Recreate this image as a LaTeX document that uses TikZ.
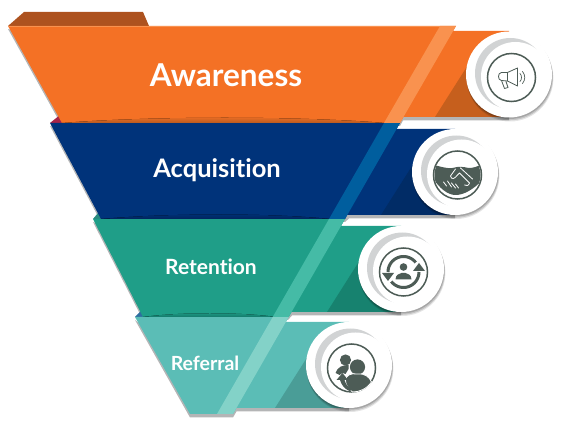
\documentclass[tikz,border=0pt]{standalone}
\usepackage{fontspec}
\setmainfont{Lato}[Ligatures=NoCommon]
\usetikzlibrary{calc}
\definecolor{orangeb}{HTML}{F47125}\definecolor{orangel}{HTML}{F9924F}\definecolor{oranged}{HTML}{C65F1D}\definecolor{orangetab}{HTML}{AD521F}\definecolor{orangelens}{HTML}{B65A20}
\definecolor{blueb}{HTML}{00337A}\definecolor{bluel}{HTML}{005E9E}\definecolor{blued}{HTML}{012C66}\definecolor{bluelens}{HTML}{00255C}
\definecolor{tealb}{HTML}{1F9E88}\definecolor{teall}{HTML}{45BBA6}\definecolor{teald}{HTML}{17826F}\definecolor{teallens}{HTML}{14796A}
\definecolor{aquab}{HTML}{5BBDB6}\definecolor{aqual}{HTML}{83D2C8}\definecolor{aquad}{HTML}{4A9D97}
\definecolor{tabred}{HTML}{A82548}\definecolor{tabteal}{HTML}{2A8A80}\definecolor{tabblue}{HTML}{2F6FA0}
\definecolor{iconc}{HTML}{4D5C56}\definecolor{crescent}{HTML}{D1D3D4}\definecolor{shadowc}{HTML}{B4B5B6}
\tikzset{
  bandshadow/.style={fill=shadowc,draw=none},
  label/.style={text=white,font=\fontsize{#1}{#1}\selectfont\bfseries,inner sep=0pt},
  iconline/.style={draw=iconc,line width=.8pt,line join=round,line cap=round},
  iconfill/.style={fill=iconc,draw=none},
  whitecut/.style={draw=white,line width=0.8pt,line cap=round,line join=round}
}
% white disc with shadow, grey crescent and the ring; #1 = the icon
\newcommand{\mybadge}[1]{%
  \fill[black,opacity=.10] (1,3.6) circle (43.4);
  \fill[black,opacity=.14] (0.8,2.6) circle (43.2);
  \fill[black,opacity=.16] (0.5,1.5) circle (43);
  \fill[white] (0,0) circle (43);
  \fill[crescent] (1.4,-1.1) circle (35.4);
  \fill[white] (6.5,2) circle (34.5);
  \begin{scope}[shift={(2.5,3)}]
    \draw[draw=iconc,line width=1.5pt] (0,0) circle (24);
    #1
  \end{scope}}
\begin{document}
\begin{tikzpicture}[x=1pt,y=-1pt]
\useasboundingbox (0,0) rectangle (566,430);
% shadows under all the bands
\fill[bandshadow] (8,29) -- (62,126) -- (400,126) -- (403,120.5) -- (509,120.5) -- (509,110) -- (400,110) -- cycle;
\fill[bandshadow] (50,126) -- (101,222) -- (345,222) -- (349,218.5) -- (455,218.5) -- (455,205) -- (345,205) -- cycle;
\fill[bandshadow] (93,222) -- (143,320) -- (288,320) -- (292,315.5) -- (401,315.5) -- (401,300) -- (288,300) -- cycle;
\fill[bandshadow] (135,320) -- (190,417.5) -- (233,417.5) -- (236.5,411.5) -- (349,411.5) -- (349,400) -- (233,400) -- cycle;
% band 4: Referral
\fill[tabblue] (135,317) -- (144,308) -- (152,317) -- cycle;
\fill[aquab] (135,317) -- (288.7,317) -- (285.8,322) -- (349,322) -- (349,408) -- (236.5,408) -- (233,414) -- (190,414) -- cycle;
\fill[aquad] (275,408) -- (320,337) -- (349,365) -- (349,408) -- cycle;
\fill[aqual] (272.7,317) -- (288.7,317) -- (233,414) -- (217,414) -- cycle;
\begin{scope}[shift={(349,365)}]\mybadge{
  \fill[iconfill] (-6,-8) circle (5.6);
  \fill[iconfill] (6,-1) circle (7.6);
  \fill[iconfill] (-16,5) .. controls (-14,-1) and (-9,-3) .. (-3,-3) -- (-3,1) -- (-6,6) -- (-9,5) -- (-12,7) -- cycle;
  \fill[iconfill,draw=white,line width=.8pt] (-6,12) .. controls (-5,7) and (-1,5) .. (6,6) .. controls (13,5) and (18,9) .. (20,14) .. controls (15,21) and (8,24) .. (1,24) .. controls (-4,20) and (-6,16) .. (-6,12) -- cycle;
  \fill[iconfill] (-9,5) -- (-15,12) -- (-11.5,12) .. controls (-10,17) and (-7,21) .. (-2,23) -- (1,22) .. controls (-3,20) and (-6,16) .. (-7,12) -- (-3.5,12) -- cycle;
}\end{scope}
% band 3: Retention
\fill[tabteal] (93,219) -- (98,213) -- (108,219) -- cycle;
\fill[tealb] (93,219) -- (345,219) -- (341,226) -- (401,226) -- (401,312) -- (291.5,312) -- (288.7,317) -- (143,317) -- cycle;
\fill[top color=tealb,bottom color=teallens,draw=none] (143,317) .. controls (180,312) and (240,312) .. (276,317) -- cycle;
\fill[teald] (327,312) -- (372,241) -- (401,269) -- (401,312) -- cycle;
\fill[teall] (329,219) -- (345,219) -- (288.7,317) -- (272.7,317) -- cycle;
\begin{scope}[shift={(401,269)}]\mybadge{
  \draw[draw=iconc,line width=3pt,domain=180:322,samples=20,smooth,variable=\t] plot ({15.5*cos(\t)},{15.5*sin(\t)});
  \draw[draw=iconc,line width=3pt,domain=0:142,samples=20,smooth,variable=\t] plot ({15.5*cos(\t)},{15.5*sin(\t)});
  \fill[iconfill] (-21.5,1) -- (-9.5,1) -- (-15.5,9) -- cycle;
  \fill[iconfill] (21.5,-1) -- (9.5,-1) -- (15.5,-9) -- cycle;
  \fill[iconfill] (0,-5) circle (3.8);
  \fill[iconfill] (-8,7.5) .. controls (-7.5,2.5) and (-5,2) .. (-2,1) -- (2,1) .. controls (5,2) and (7.5,2.5) .. (8,7.5) -- cycle;
}\end{scope}
% band 2: Acquisition
\fill[tabred] (50,123) -- (60,115) -- (70,123) -- cycle;
\fill[blueb] (50,123) -- (400,123) -- (396.5,129) -- (455,129) -- (455,215) -- (347,215) -- (345,219) -- (101,219) -- cycle;
\fill[top color=blueb,bottom color=bluelens,draw=none] (101,219) .. controls (170,213) and (270,213) .. (330,219) -- cycle;
\fill[blued] (381,215) -- (426,144) -- (455,172) -- (455,215) -- cycle;
\fill[bluel] (384,123) -- (400,123) -- (345,219) -- (329,219) -- cycle;
\begin{scope}[shift={(455,172)}]\mybadge{
  \begin{scope}
    \clip (0,0) circle (23);
    \fill[iconfill] (-24,-10) .. controls (-15,-8) and (-9,-6) .. (-5,-7) .. controls (1,-9) and (7,-8) .. (11,-7) .. controls (15,-7) and (20,-8) .. (24,-11) -- (24,6) .. controls (15,15) and (6,20) .. (-2,20) .. controls (-10,20) and (-18,13) .. (-24,4) -- cycle;
  \end{scope}
  \draw[whitecut] (-2,-6) -- (-7,1) .. controls (-6,5) and (-3,4) .. (0,0) -- (2,-2) -- (12,8) .. controls (11,11) and (9,11) .. (7,10);
  \draw[whitecut] (3,-7) -- (15,4);
  \draw[whitecut] (-14,7) -- (-11,11);
  \draw[whitecut] (-10,6) -- (-6,12);
  \draw[whitecut] (-6,8) -- (-2,13);
  \draw[whitecut] (-2,9) -- (1,13);
}\end{scope}
% band 1: Awareness
\fill[orangetab] (8,26) -- (24,12) -- (143,12) -- (149,26) -- cycle;
\fill[orangeb] (8,26) -- (456,26) -- (453,31) -- (509,31) -- (509,117) -- (403.5,117) -- (400,123) -- (62,123) -- cycle;
\draw[orangel,line width=.6pt] (8,26.3) -- (456,26.3);
\fill[top color=orangeb,bottom color=orangelens,draw=none] (62,123) .. controls (150,116) and (300,116) .. (385,123) -- cycle;
\fill[oranged] (435,117) -- (480,46) -- (509,74) -- (509,117) -- cycle;
\fill[orangel] (440,26) -- (456,26) -- (400,123) -- (384,123) -- cycle;
\begin{scope}[shift={(509,74.5)}]\mybadge{
  \draw[iconline] (-4,-5) -- (6,-9.5) -- (6,8.5) -- (-4,3.5) -- cycle;
  \draw[iconline] (-4,-5) -- (-10,-5) .. controls (-14,-5) and (-14,3) .. (-10,3) -- (-4,3.5);
  \draw[iconline] (-10,3) -- (-7,11) -- (-3.5,10) -- (-5.5,4);
  \draw[iconline,line width=.7pt] (8.5,-4) .. controls (10.5,-2) and (10.5,2) .. (8.5,4);
  \draw[iconline,line width=.7pt] (11,-6) .. controls (14,-2.5) and (14,2.5) .. (11,6);
}\end{scope}
% labels
\node[label=31.5] (awareness) at (226,75.5) {Awareness};
\node[label=25.5] (acquisition) at (217,170.5) {Acquisition};
\node[label=21] (retention) at (211,266.5) {Retention};
\node[label=19.5] (referral) at (205,363.5) {Referral};
\end{tikzpicture}
\end{document}
